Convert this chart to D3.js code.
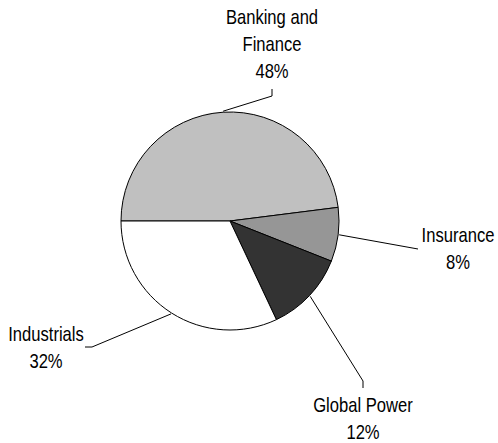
<!DOCTYPE html>
<html>
<head>
<meta charset="utf-8">
<script src="https://cdn.jsdelivr.net/npm/d3@7"></script>
<style>
  body { margin: 0; background: #fff; }
  svg text { font-family: "Liberation Sans", Arial, sans-serif; font-size: 20px; fill: #000; }
</style>
</head>
<body>
<div id="chart"></div>
<script>
// slices, clockwise from 9 o'clock
var categories = ["Banking and Finance", "Insurance", "Global Power", "Industrials"];
var values = [48, 8, 12, 32];
var labelLines = [["Banking and", "Finance"], ["Insurance"], ["Global Power"], ["Industrials"]];
var fills = ["#c0c0c0", "#969696", "#333333", "#ffffff"];

// where each label sits and how its leader bends (placed by hand like the original)
var labelLayout = [
    { x: 272, y: 24, bend: [[272, 96], [272, 89]] },
    { x: 458, y: 242, bend: [[418, 249]] },
    { x: 363, y: 412, bend: [[363, 381], [363, 388]] },
    { x: 46, y: 341, bend: [[92, 347], [85, 347]] }
];

var width = 498, height = 443;
var cx = 230, cy = 221, radius = 109;
var lineH = 27;
// the original font is a narrow one, squeeze the regular one to match
var squeeze = 0.83;

var svg = d3.select('#chart').append('svg')
    .attr('width', width)
    .attr('height', height);

var pie = d3.pie()
    .sort(null)
    .startAngle(-Math.PI / 2)
    .endAngle(Math.PI * 1.5)
    .value(function (d) { return d; });

var arcs = pie(values);

var arc = d3.arc().innerRadius(0).outerRadius(radius);
// point on the rim where a leader starts
var rim = d3.arc().innerRadius(radius + 1).outerRadius(radius + 1);

var g = svg.append('g').attr('transform', 'translate(' + cx + ',' + cy + ')');

g.selectAll('path.slice')
    .data(arcs)
    .enter().append('path')
    .attr('class', 'slice')
    .attr('d', arc)
    .style('fill', function (d, i) { return fills[i]; })
    .style('stroke', '#000')
    .style('stroke-width', 1);

// leader lines
var line = d3.line();
svg.selectAll('path.leader')
    .data(arcs)
    .enter().append('path')
    .attr('class', 'leader')
    .attr('d', function (d, i) {
        var c = rim.centroid(d);
        var pts = [[c[0] + cx, c[1] + cy]].concat(labelLayout[i].bend);
        return line(pts);
    })
    .style('fill', 'none')
    .style('stroke', '#000')
    .style('stroke-width', 1);

// labels: name lines, then the percentage
arcs.forEach(function (d, i) {
    var lay = labelLayout[i];
    var t = svg.append('text')
        .attr('transform', 'translate(' + lay.x + ',' + lay.y + ') scale(' + squeeze + ',1)')
        .attr('text-anchor', 'middle');
    var lines = labelLines[i].concat([values[i] + '%']);
    lines.forEach(function (s, k) {
        t.append('tspan')
            .attr('x', 0)
            .attr('y', k * lineH)
            .text(s);
    });
});
</script>
</body>
</html>
